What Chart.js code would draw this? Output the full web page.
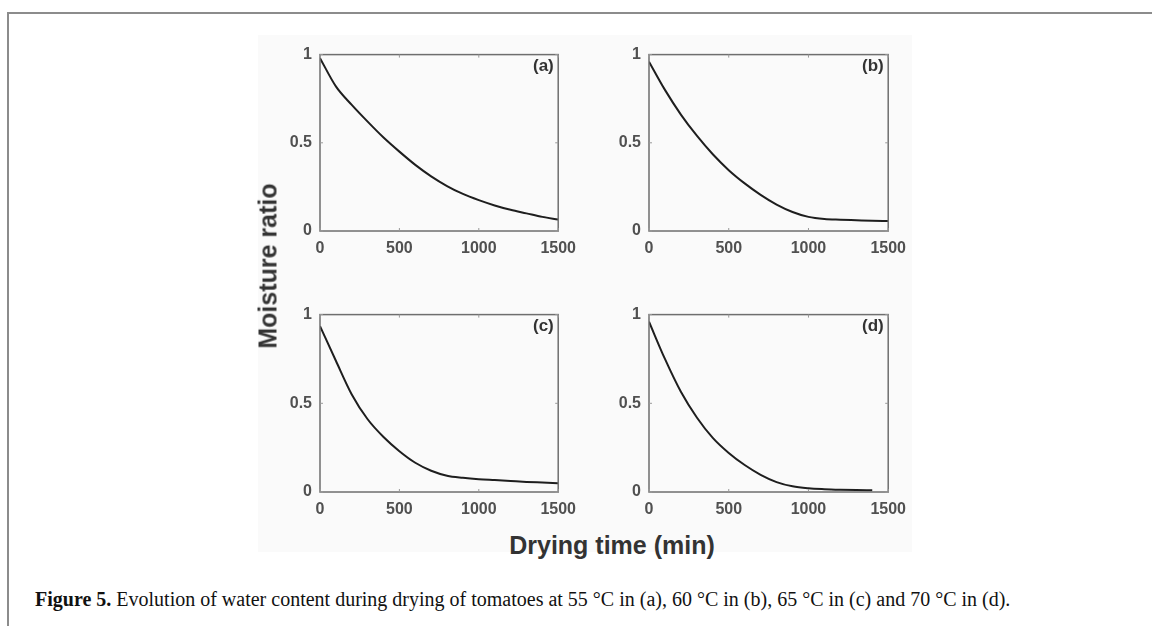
<!DOCTYPE html>
<html>
<head>
<meta charset="utf-8">
<script src="https://cdn.jsdelivr.net/npm/chart.js@4"></script>
<style>
  body { margin: 0; background: #fff; width: 1152px; height: 626px; position: relative; overflow: hidden; }
  .frame-top { position: absolute; left: 7px; top: 12px; width: 1145px; height: 2px; background: #8c8c8c; }
  .frame-left { position: absolute; left: 7px; top: 12px; width: 2px; height: 614px; background: #8c8c8c; }
  .fig-bg { position: absolute; left: 258px; top: 35px; width: 654px; height: 517px; background: #fafafa; }
  .panel { position: absolute; }
  .letter { position: absolute; font: bold 17px "Liberation Sans", Arial, sans-serif; color: #333; line-height: 17px; }
  .ytitle { position: absolute; left: 268px; top: 266px; transform: translate(-50%, -50%) rotate(-90deg);
            font: bold 25px "Liberation Sans", Arial, sans-serif; color: #333; white-space: nowrap; }
  .xtitle { position: absolute; left: 612px; top: 545px; transform: translate(-50%, -50%);
            font: bold 25px "Liberation Sans", Arial, sans-serif; color: #333; white-space: nowrap; }
  .caption { position: absolute; left: 35px; top: 589px; font: 20px "Liberation Serif", "Times New Roman", serif;
             color: #111; line-height: 20px; white-space: nowrap; }
</style>
</head>
<body>
<div class="frame-top"></div>
<div class="frame-left"></div>
<div class="fig-bg"></div>

<div class="panel" id="pa"><canvas id="chartA"></canvas></div>
<div class="panel" id="pb"><canvas id="chartB"></canvas></div>
<div class="panel" id="pc"><canvas id="chartC"></canvas></div>
<div class="panel" id="pd"><canvas id="chartD"></canvas></div>

<span class="letter" style="left:533px; top:57px;">(a)</span>
<span class="letter" style="left:862px; top:57px;">(b)</span>
<span class="letter" style="left:533px; top:317px;">(c)</span>
<span class="letter" style="left:862px; top:317px;">(d)</span>

<div class="ytitle">Moisture ratio</div>
<div class="xtitle">Drying time (min)</div>
<div class="caption"><b>Figure 5.</b> Evolution of water content during drying of tomatoes at 55 °C in (a), 60 °C in (b), 65 °C in (c) and 70 °C in (d).</div>

<script>
// drying time (min)
const dryingTime = [0, 100, 200, 300, 400, 500, 600, 700, 800, 900, 1000, 1100, 1200, 1300, 1400, 1500];
const dryingTimeD = [0, 100, 200, 300, 400, 500, 600, 700, 800, 900, 1000, 1100, 1200, 1300, 1400];

// moisture ratio
const moistureA = [0.98, 0.82, 0.715, 0.62, 0.53, 0.45, 0.375, 0.31, 0.255, 0.21, 0.175, 0.145, 0.12, 0.10, 0.08, 0.065];
const moistureB = [0.96, 0.80, 0.66, 0.54, 0.435, 0.345, 0.27, 0.205, 0.15, 0.108, 0.08, 0.068, 0.064, 0.061, 0.058, 0.056];
const moistureC = [0.935, 0.74, 0.55, 0.41, 0.31, 0.23, 0.165, 0.12, 0.092, 0.08, 0.072, 0.067, 0.062, 0.057, 0.053, 0.049];
const moistureD = [0.96, 0.75, 0.565, 0.42, 0.305, 0.22, 0.152, 0.097, 0.056, 0.032, 0.021, 0.016, 0.013, 0.011, 0.01];

const xTicks = [0, 500, 1000, 1500];
const yTicks = [0, 0.5, 1];

// plot box of each panel: left, top, right, bottom
const boxes = {
    pa: [320, 47, 562, 231],
    pb: [649, 47, 892, 231],
    pc: [320, 307, 562, 492],
    pd: [649, 307, 892, 492]
};
const padLeft = 40, padTop = 10, padRight = 22, padBottom = 32;

// box around the plot with small inward ticks
const boxPlugin = {
    id: "boxPlugin",
    afterDraw(chart) {
        let ctx = chart.ctx;
        let a = chart.chartArea;
        let xs = chart.scales.x, ys = chart.scales.y;
        ctx.save();
        ctx.strokeStyle = "#6e6e6e";
        ctx.lineWidth = 1.5;
        ctx.strokeRect(a.left, a.top, a.right - a.left, a.bottom - a.top);
        ctx.lineWidth = 1;
        ctx.strokeStyle = "#999";
        ctx.beginPath();
        xTicks.forEach(v => {
            let px = xs.getPixelForValue(v);
            ctx.moveTo(px, a.bottom); ctx.lineTo(px, a.bottom - 3);
            ctx.moveTo(px, a.top); ctx.lineTo(px, a.top + 3);
        });
        yTicks.forEach(v => {
            let py = ys.getPixelForValue(v);
            ctx.moveTo(a.left, py); ctx.lineTo(a.left + 3, py);
            ctx.moveTo(a.right, py); ctx.lineTo(a.right - 3, py);
        });
        ctx.stroke();
        ctx.restore();
    }
};

function makePanel(divId, canvasId, times, values) {
    let b = boxes[divId];
    let w = b[2] - b[0] + padLeft + padRight;
    let h = b[3] - b[1] + padTop + padBottom;
    let div = document.getElementById(divId);
    div.style.left = (b[0] - padLeft) + "px";
    div.style.top = (b[1] - padTop) + "px";
    div.style.width = w + "px";
    div.style.height = h + "px";

    let points = times.map((t, i) => ({ x: t, y: values[i] }));
    let tickFont = { family: "'Liberation Sans', Arial, sans-serif", size: 16, weight: "bold" };

    new Chart(document.getElementById(canvasId), {
        type: "line",
        data: {
            datasets: [{
                data: points,
                borderColor: "#1e1e1e",
                borderWidth: 2,
                pointRadius: 0,
                fill: false,
                cubicInterpolationMode: "monotone"
            }]
        },
        options: {
            responsive: true,
            maintainAspectRatio: false,
            animation: false,
            layout: { padding: { left: 0, top: padTop, right: padRight, bottom: 0 } },
            plugins: { legend: { display: false }, tooltip: { enabled: false } },
            scales: {
                x: {
                    type: "linear",
                    min: 0,
                    max: 1500,
                    afterBuildTicks: scale => { scale.ticks = xTicks.map(v => ({ value: v })); },
                    afterFit: scale => { scale.height = padBottom; },
                    grid: { display: false, drawTicks: false },
                    border: { display: false },
                    ticks: { font: tickFont, color: "#505050", padding: 8, maxRotation: 0,
                             callback: v => String(v) }
                },
                y: {
                    min: 0,
                    max: 1,
                    afterBuildTicks: scale => { scale.ticks = yTicks.map(v => ({ value: v })); },
                    afterFit: scale => { scale.width = padLeft; },
                    grid: { display: false, drawTicks: false },
                    border: { display: false },
                    ticks: { font: tickFont, color: "#505050", padding: 8,
                             callback: v => String(v) }
                }
            }
        },
        plugins: [boxPlugin]
    });
}

makePanel("pa", "chartA", dryingTime, moistureA);
makePanel("pb", "chartB", dryingTime, moistureB);
makePanel("pc", "chartC", dryingTime, moistureC);
makePanel("pd", "chartD", dryingTimeD, moistureD);
</script>
</body>
</html>
